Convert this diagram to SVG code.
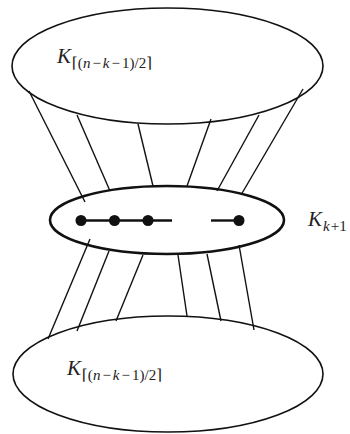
<svg xmlns="http://www.w3.org/2000/svg" width="350" height="434" viewBox="0 0 350 434">
<style>
.ell{fill:none;stroke:#111;stroke-width:1.6}
.mid{fill:none;stroke:#111;stroke-width:2.6}
.e{stroke:#111;stroke-width:1.4;fill:none}
.p{stroke:#111;stroke-width:2.4;fill:none}
.dot{fill:#111}
.lbl{font-family:"Liberation Serif","DejaVu Serif",serif;fill:#222}
.it{font-style:italic}
.sub{font-size:15px}
</style>
<rect width="350" height="434" fill="#fff"/>
<g id="connectors">
<line class="e" x1="29" y1="91" x2="85" y2="202"/>
<line class="e" x1="77" y1="115" x2="110" y2="191"/>
<line class="e" x1="138" y1="124" x2="153" y2="186"/>
<line class="e" x1="211" y1="119" x2="187" y2="186"/>
<line class="e" x1="259" y1="115" x2="217" y2="191"/>
<line class="e" x1="303" y1="89" x2="241" y2="195"/>
<line class="e" x1="90" y1="239" x2="48" y2="339"/>
<line class="e" x1="109" y1="251" x2="77" y2="331"/>
<line class="e" x1="143" y1="255" x2="116" y2="321"/>
<line class="e" x1="178" y1="255" x2="187" y2="316"/>
<line class="e" x1="207" y1="254" x2="221" y2="321"/>
<line class="e" x1="239" y1="245" x2="254" y2="330"/>
</g>
<g id="top">
<ellipse class="ell" cx="167.5" cy="66" rx="155.5" ry="58"/>
<text class="lbl" x="57" y="63"><tspan class="it" font-size="21">K</tspan><tspan class="sub" dy="5" dx="1">⌈(<tspan class="it">n</tspan><tspan dx="2">−</tspan><tspan class="it" dx="2">k</tspan><tspan dx="2">−</tspan><tspan dx="2">1)/2⌉</tspan></tspan></text>
</g>
<g id="middle">
<ellipse class="mid" cx="167" cy="220" rx="117" ry="34"/>
<line class="p" x1="81" y1="220.5" x2="172" y2="220.5"/>
<line class="p" x1="211" y1="220.5" x2="239" y2="220.5"/>
<circle class="dot" cx="81" cy="220.5" r="5.5"/>
<circle class="dot" cx="114.5" cy="220.5" r="5.5"/>
<circle class="dot" cx="148" cy="220.5" r="5.5"/>
<circle class="dot" cx="239" cy="220.5" r="5.5"/>
</g>
<g id="kk1">
<text class="lbl" x="308" y="226"><tspan class="it" font-size="21">K</tspan><tspan class="sub" dy="5" dx="1"><tspan class="it">k</tspan><tspan dx="1">+1</tspan></tspan></text>
</g>
<g id="bottom">
<ellipse class="ell" cx="168" cy="374" rx="155" ry="58"/>
<text class="lbl" x="67" y="375"><tspan class="it" font-size="21">K</tspan><tspan class="sub" dy="5" dx="1">⌈(<tspan class="it">n</tspan><tspan dx="2">−</tspan><tspan class="it" dx="2">k</tspan><tspan dx="2">−</tspan><tspan dx="2">1)/2⌉</tspan></tspan></text>
</g>
</svg>
